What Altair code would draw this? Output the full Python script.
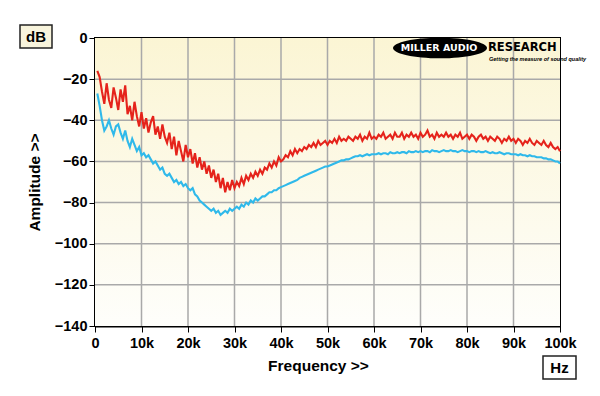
import altair as alt
import pandas as pd

# frequency axis in kHz, 0.5 kHz steps
freq_k = [round(0.5 * (i + 1), 1) for i in range(200)]

red_db = [
    -16, -19, -26, -32, -22, -30, -34, -24, -29, -35,
    -25, -31, -23, -37, -33, -40, -31, -38, -43, -36,
    -44, -39, -46, -41, -38, -47, -43, -49, -42, -48,
    -51, -46, -54, -48, -57, -50, -55, -60, -52, -58,
    -54, -61, -56, -63, -58, -64, -60, -66, -62, -68,
    -64, -70, -66, -73, -68, -75, -70, -74, -69, -73,
    -70, -72, -68, -71, -67, -69, -66, -68, -65, -67,
    -64, -66, -63, -64, -61, -63, -60, -62, -58, -60,
    -59, -57, -58, -55, -57, -54, -56, -54, -55, -53,
    -54, -52, -53, -51, -53, -50, -52, -51, -50, -52,
    -50, -51, -49, -51, -48, -50, -49, -50, -48, -49,
    -50, -48, -49, -47, -50, -48, -49, -46, -49, -48,
    -49, -47, -48, -46, -49, -48, -47, -49, -46, -48,
    -48, -46, -49, -47, -48, -46, -48, -47, -49, -46,
    -48, -47, -45, -48, -47, -49, -46, -48, -47, -48,
    -46, -48, -47, -49, -47, -48, -46, -49, -48, -47,
    -49, -47, -48, -50, -48, -47, -49, -48, -50, -48,
    -49, -50, -48, -49, -51, -49, -50, -48, -50, -49,
    -51, -49, -50, -52, -50, -51, -49, -51, -52, -50,
    -51, -52, -50, -52, -53, -51, -53, -54, -53, -55,
]

cyan_db = [
    -27, -33, -40, -45, -43, -40, -44, -47, -43, -42,
    -46, -49, -45, -50, -53, -49, -52, -55, -53, -57,
    -56, -58, -57, -59, -61, -60, -62, -64, -63, -66,
    -67, -66, -68, -70, -69, -71, -70, -72, -71, -73,
    -74, -73, -76, -77, -79, -80, -81, -82, -83, -84,
    -83, -85, -84, -86, -85, -84, -85, -83, -84, -83,
    -82, -83, -81, -82, -80, -81, -79, -80, -78, -79,
    -78, -77, -77, -76, -75, -75, -74, -74, -73, -72.5,
    -72, -71.5, -71, -70.5, -70, -69.5, -69, -68, -67.5, -67,
    -66.5, -66, -65.5, -65, -64.5, -64, -63.5, -63, -62.5, -62.5,
    -62, -61.5, -61, -60.5, -60, -59.5, -59.5, -59, -59, -58.5,
    -58, -57.5, -57.5, -57, -57.5, -57, -56.5, -57, -56.5, -56.5,
    -56.5, -56, -56.5, -56, -56, -56.5, -55.5, -56, -56, -55.5,
    -56, -55.5, -55.5, -56, -55, -55.5, -55.5, -55, -55.5, -55,
    -55.5, -55, -55, -55.5, -54.5, -55, -55, -55.5, -55, -54.5,
    -55, -55, -54.5, -55, -55, -55.5, -55, -54.5, -55, -55,
    -55.5, -55, -55, -55.5, -55, -55.5, -55.5, -55, -55.5, -56,
    -55.5, -56, -56, -55.5, -56, -56.5, -56, -56, -56.5, -56.5,
    -56.5, -57, -56.5, -57, -57, -57.5, -57, -57.5, -57.5, -58,
    -58, -58, -58.5, -58.5, -59, -59, -59.5, -60, -60, -61,
]

x_ticks = [0, 10, 20, 30, 40, 50, 60, 70, 80, 90, 100]
y_ticks = [0, -20, -40, -60, -80, -100, -120, -140]
x_grid = [10, 20, 30, 40, 50, 60, 70, 80, 90]
y_grid = [-20, -40, -60, -80, -100, -120]

W, H = 465, 288
FONT = "Liberation Sans"
LOGO_FONT = "DejaVu Sans"

df = pd.DataFrame(
    {"freq": freq_k * 2,
     "db": red_db + cyan_db,
     "series": ["red"] * len(red_db) + ["cyan"] * len(cyan_db)}
)

xs = alt.Scale(domain=[0, 100], nice=False, zero=False)
ys = alt.Scale(domain=[-140, 0], nice=False, zero=False)
x_axis = alt.Axis(values=x_ticks, title="Frequency >>",
                  labelExpr="datum.value == 0 ? '0' : datum.value + 'k'",
                  labelFlush=False, labelPadding=4,
                  titleX=223, titlePadding=9)
y_axis = alt.Axis(values=y_ticks, title="Amplitude >>", titlePadding=12,
                  labelFlush=False)

bg = alt.Chart(pd.DataFrame({"a": [0]})).mark_rect(
    color=alt.LinearGradient(
        gradient="linear",
        stops=[alt.GradientStop(color="#fbf5d4", offset=0),
               alt.GradientStop(color="#fefefb", offset=1)],
        x1=0, x2=0, y1=0, y2=1,
    )
).encode(x=alt.value(0), x2=alt.value(W), y=alt.value(0), y2=alt.value(H))

vgrid = alt.Chart(pd.DataFrame({"freq": x_grid})).mark_rule(
    color="#a9a9a9", strokeWidth=1.5
).encode(x=alt.X("freq:Q", scale=xs, axis=x_axis))

hgrid = alt.Chart(pd.DataFrame({"db": y_grid})).mark_rule(
    color="#a9a9a9", strokeWidth=1.5
).encode(y=alt.Y("db:Q", scale=ys, axis=y_axis))

lines = alt.Chart(df).mark_line(strokeWidth=2.1).encode(
    x=alt.X("freq:Q", scale=xs, axis=x_axis),
    y=alt.Y("db:Q", scale=ys, axis=y_axis),
    color=alt.Color("series:N",
                    scale=alt.Scale(domain=["red", "cyan"], range=["#e5231b", "#2fb9ea"]),
                    legend=None),
    detail="series:N",
)

logo_oval = alt.Chart(pd.DataFrame({"a": [0]})).mark_point(
    shape="M-1,0A1,0.22,0,1,1,1,0A1,0.22,0,1,1,-1,0Z",
    filled=True, color="black", opacity=1, size=8836,
).encode(x=alt.value(345), y=alt.value(10))

logo_t1 = alt.Chart(pd.DataFrame({"a": [0]})).mark_text(
    text="MILLER AUDIO", color="white", font=LOGO_FONT, fontWeight="bold",
    fontSize=9.5, align="center", baseline="middle",
).encode(x=alt.value(344), y=alt.value(10))

logo_t2 = alt.Chart(pd.DataFrame({"a": [0]})).mark_text(
    text="RESEARCH", color="black", font=LOGO_FONT, fontWeight="bold",
    fontSize=11.5, align="left", baseline="middle",
).encode(x=alt.value(393), y=alt.value(10))

logo_t3 = alt.Chart(pd.DataFrame({"a": [0]})).mark_text(
    text="Getting the measure of sound quality", color="black", font=FONT,
    fontWeight="bold", fontStyle="italic", fontSize=5.5, align="left",
    baseline="middle",
).encode(x=alt.value(394), y=alt.value(20.5))

db_box = alt.Chart(pd.DataFrame({"a": [0]})).mark_rect(
    fill="#f8f4dc", stroke="#222222", strokeWidth=1.5
).encode(x=alt.value(-75), x2=alt.value(-43), y=alt.value(-13), y2=alt.value(10))

db_txt = alt.Chart(pd.DataFrame({"a": [0]})).mark_text(
    text="dB", font=FONT, fontWeight="bold", fontSize=15, align="center",
    baseline="middle", color="black",
).encode(x=alt.value(-59), y=alt.value(-1.5))

hz_box = alt.Chart(pd.DataFrame({"a": [0]})).mark_rect(
    fill="#ffffff", stroke="#222222", strokeWidth=1.5
).encode(x=alt.value(448), x2=alt.value(481), y=alt.value(318), y2=alt.value(341))

hz_txt = alt.Chart(pd.DataFrame({"a": [0]})).mark_text(
    text="Hz", font=FONT, fontWeight="bold", fontSize=15, align="center",
    baseline="middle", color="black",
).encode(x=alt.value(464.5), y=alt.value(330))

chart = alt.layer(
    bg, vgrid, hgrid, lines, logo_oval, logo_t1, logo_t2, logo_t3,
    db_box, db_txt, hz_box, hz_txt,
).properties(
    width=W, height=H,
    autosize=alt.AutoSizeParams(type="none"),
    padding={"left": 87, "top": 30, "right": 32, "bottom": 62},
    background="white",
).configure_view(
    stroke="black", strokeWidth=2, clip=False,
).configure_axis(
    labelFont=FONT, labelFontSize=14.5, labelFontWeight="bold", labelColor="black",
    titleFont=FONT, titleFontSize=15.5, titleFontWeight="bold", titleColor="black",
    tickColor="black", tickSize=6, tickWidth=1,
    domainColor="black", domainWidth=2, grid=False, labelPadding=2,
)

chart.save("out.html", embed_options={"renderer": "svg", "actions": False})
